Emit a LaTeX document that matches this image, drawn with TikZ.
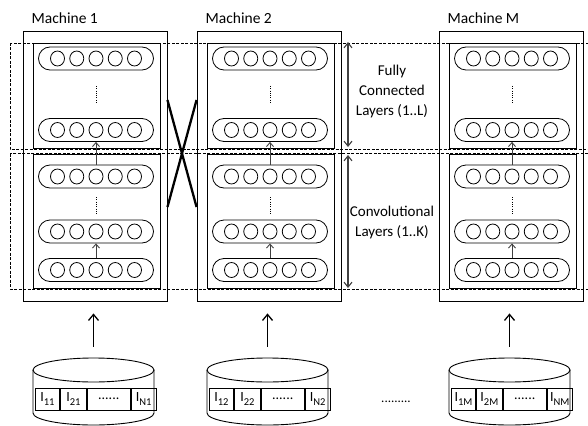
\documentclass[tikz,border=0pt]{standalone}
\usepackage{fontspec}
\setmainfont{Carlito}
\usetikzlibrary{arrows.meta,calc,shapes.geometric}
\newcommand{\isub}[1]{I\raisebox{-3.5pt}{\fontsize{10.5}{10.5}\selectfont #1}}
\begin{document}
\begin{tikzpicture}[x=1pt,y=-1pt,
  box/.style={draw, line width=0.9pt, inner sep=0pt},
  layer/.style={draw, line width=0.8pt, rounded corners=11.5pt, minimum width=115pt, minimum height=23pt, inner sep=0pt},
  neuron/.style={draw, ellipse, line width=0.8pt, minimum width=14pt, minimum height=15pt, inner sep=0pt},
  upar/.style={draw=black!75, line width=0.9pt, -{Straight Barb[length=4pt,width=7pt]}},
  sidearr/.style={draw=black!75, line width=1.1pt, {Straight Barb[length=5pt,width=8pt]}-{Straight Barb[length=5pt,width=8pt]}},
  bigarr/.style={line width=1.3pt, -{Straight Barb[length=6pt,width=10pt]}},
  dashbox/.style={dash pattern=on 3pt off 1.5pt, line width=0.7pt},
  vdots/.style={line width=1pt, dash pattern=on 0.9pt off 1.4pt},
  cell/.style={draw, line width=0.9pt, minimum height=22pt, inner sep=0pt, font=\fontsize{14}{14}\selectfont},
  lab/.style={font=\fontsize{15}{20}\selectfont, align=center},
  crossline/.style={line width=2.3pt},
]
\useasboundingbox (0,0) rectangle (588,425);

% dashed layer bands
\draw[dashbox] (10,43) rectangle (600,149.5);
\draw[dashbox] (10,153.5) rectangle (600,289);

\foreach \i/\L/\name in {1/23/Machine 1, 2/197/Machine 2, M/439/Machine M}{
  \pgfmathsetmacro\cx{\L+73}
  \node[box, minimum width=144pt, minimum height=270pt] (m\i) at (\L+72,166) {};
  \node[anchor=base west, inner sep=0pt, font=\fontsize{15.5}{18}\selectfont] (t\i) at (\L+8.5,24) {\name};
  \node[box, minimum width=127pt, minimum height=105pt] (fc\i) at (\L+73.5,95.5) {};
  \node[box, minimum width=127pt, minimum height=134pt] (cv\i) at (\L+73.5,221) {};
  \node[layer] (f1\i) at (\cx,58.5) {};
  \node[layer] (f2\i) at (\cx,130) {};
  \node[layer] (c1\i) at (\cx,176.5) {};
  \node[layer] (c2\i) at (\cx,231.5) {};
  \node[layer] (c3\i) at (\cx,270) {};
  \foreach \r in {f1,f2,c1,c2,c3}{
    \foreach \k in {1,...,5}{
      \node[neuron] (\r\i-\k) at ($(\r\i)+(\k*19.25-57.75,0)$) {};
    }
  }
  \draw[upar] (c3\i) -- (c2\i);
  \draw[upar] (c1\i) -- (f2\i);
  \draw[vdots] (\cx,86) -- (\cx,104);
  \draw[vdots] (\cx,197) -- (\cx,215);
  % database cylinder
  \node[minimum width=121pt, minimum height=67pt, inner sep=0pt] (db\i) at (\L+70.5,391.5) {};
  \draw[line width=0.9pt] (\L+70.5,370) ellipse [x radius=60.5pt, y radius=12pt];
  \draw[line width=0.9pt] (\L+10,370) -- (\L+10,413) arc[start angle=180, end angle=360, x radius=60.5pt, y radius=12pt] -- (\L+131,370);
  \node[cell, minimum width=24pt, anchor=west] (a\i) at (\L+12,399) {\isub{1\i}};
  \node[cell, minimum width=26pt, anchor=west] (b\i) at (a\i.east) {\isub{2\i}};
  \node[cell, minimum width=43pt, anchor=west] (d\i) at (b\i.east) {......};
  \node[cell, minimum width=25pt, anchor=west] (n\i) at (d\i.east) {\isub{N\i}};
  \coordinate (s\i) at ($(db\i.north)+(0,-11)$);
  \coordinate (e\i) at (s\i |- m\i.south);
  \draw[bigarr, shorten >=12pt] (s\i) -- (e\i);
}

% cross between machine 1 and 2
\coordinate (ytop) at (0,100);
\coordinate (ybot) at (0,207);
\draw[crossline] (m1.east |- ytop) -- (m2.west |- ybot);
\draw[crossline] (m2.west |- ytop) -- (m1.east |- ybot);

% side arrows
\coordinate (fa) at (348,42);
\coordinate (fb) at (348,147);
\coordinate (ca) at (348,155);
\coordinate (cb) at (348,288);
\draw[sidearr] (fa) -- (fb);
\draw[sidearr] (ca) -- (cb);
\node[lab] (fcl) at (392,92) {Fully\\Connected\\Layers (1..L)};
\node[lab] (cvl) at (392,222) {Convolutional\\Layers (1..K)};

\node[font=\fontsize{13}{13}\selectfont] (gap) at (396,402) {.........};
\end{tikzpicture}
\end{document}
